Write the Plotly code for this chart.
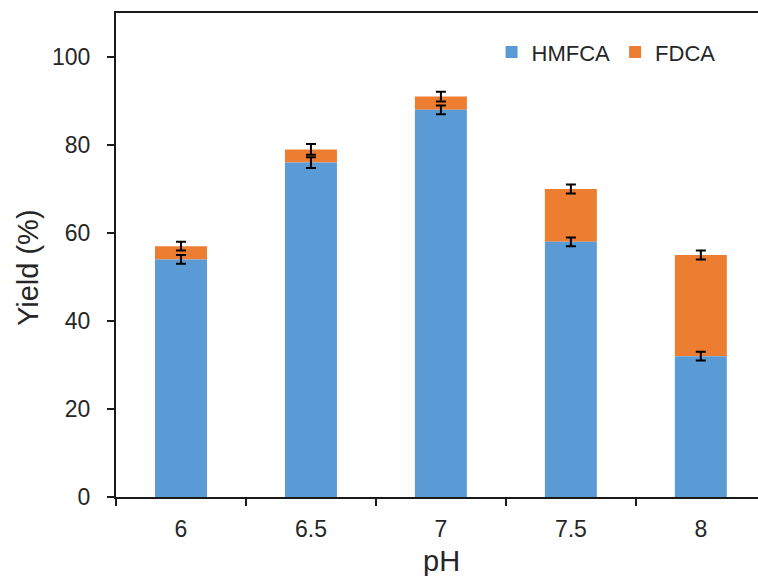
import plotly.graph_objects as go

# pH conditions and product yields (%)
ph_labels = ["6", "6.5", "7", "7.5", "8"]
hmfca = [54, 76, 88, 58, 32]
fdca = [3, 3, 3, 12, 23]
hmfca_err = [1.0, 1.2, 1.0, 1.0, 1.0]
fdca_err = [1.0, 1.2, 1.1, 1.0, 1.0]

FONT = "Liberation Sans, Arial, sans-serif"
TEXT = "#262626"
LINE = "#1a1a1a"

fig = go.Figure()
# FDCA sits on top of HMFCA; it is added first so the HMFCA error bars
# are painted over the orange segment.
fig.add_trace(go.Bar(
    name="FDCA", x=ph_labels, y=fdca, base=hmfca, width=0.4,
    marker=dict(color="#ED7D31", line=dict(width=0)),
    error_y=dict(type="data", array=fdca_err, color="black", thickness=2, width=5),
    legendrank=2,
))
fig.add_trace(go.Bar(
    name="HMFCA", x=ph_labels, y=hmfca, width=0.4,
    marker=dict(color="#5B9BD5", line=dict(width=0)),
    error_y=dict(type="data", array=hmfca_err, color="black", thickness=2, width=5),
    legendrank=1,
))

fig.update_layout(
    barmode="overlay",
    width=758, height=576,
    margin=dict(l=116, r=0, t=13, b=79),
    paper_bgcolor="white", plot_bgcolor="white",
    font=dict(family=FONT, size=23, color=TEXT),
    showlegend=True,
    legend=dict(
        orientation="h", x=0.585, xanchor="left", y=0.919, yanchor="middle",
        traceorder="normal",
        font=dict(family=FONT, size=22, color=TEXT),
        bgcolor="rgba(0,0,0,0)", itemclick=False,
    ),
    xaxis=dict(
        type="category", range=[-0.5, 4.44],
        showline=True, linecolor=LINE, linewidth=2, mirror=True,
        ticks="outside", tickson="boundaries", ticklen=7, tickwidth=2, tickcolor=LINE,
        ticklabelstandoff=10,
        tickfont=dict(family=FONT, size=23, color=TEXT),
        showgrid=False, zeroline=False,
    ),
    yaxis=dict(
        range=[0, 110], tickvals=[0, 20, 40, 60, 80, 100],
        showline=True, linecolor=LINE, linewidth=2,
        ticks="outside", ticklen=7, tickwidth=2, tickcolor=LINE,
        ticklabelstandoff=12,
        tickfont=dict(family=FONT, size=23, color=TEXT),
        showgrid=False, zeroline=False,
    ),
    annotations=[
        dict(text="Yield (%)", xref="paper", yref="paper",
             x=(28 - 116) / 642, y=(497 - 268) / 484,
             xanchor="center", yanchor="middle", textangle=-90, showarrow=False,
             font=dict(family=FONT, size=29, color=TEXT)),
        dict(text="pH", xref="paper", yref="paper",
             x=(441 - 116) / 642, y=-(561 - 497) / 484,
             xanchor="center", yanchor="middle", showarrow=False,
             font=dict(family=FONT, size=29, color=TEXT)),
    ],
)

fig.write_html("out.html")
